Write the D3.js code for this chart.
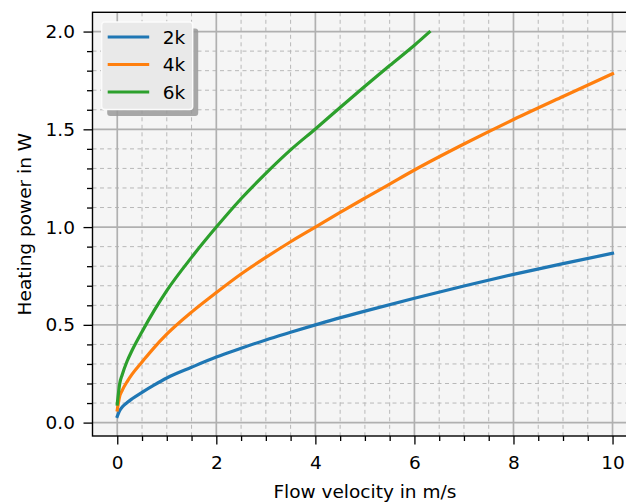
<!DOCTYPE html>
<html>
<head>
<meta charset="utf-8">
<script src="https://cdn.jsdelivr.net/npm/d3@7"></script>
<style>
  html, body { margin: 0; padding: 0; background: #ffffff; }
  svg { display: block; }
  text { font-family: "DejaVu Sans", sans-serif; fill: #000; }
</style>
</head>
<body>
<svg id="chart" width="626" height="503"></svg>
<script>
// ---- data ----
const seriesNames = ["2k", "4k", "6k"];
const seriesColors = ["#1f77b4", "#ff7f0e", "#2ca02c"];

const v2k = [0, 0.05, 0.1, 0.2, 0.3, 0.5, 0.75, 1, 1.5, 2, 2.5, 3, 3.5, 4, 5, 6, 7, 8, 9, 10];
const p2k = [0.032, 0.062, 0.08, 0.103, 0.122, 0.155, 0.193, 0.228, 0.283, 0.335, 0.38, 0.423, 0.462, 0.50, 0.57, 0.636, 0.699, 0.758, 0.813, 0.866];

const v4k = [0, 0.05, 0.1, 0.2, 0.3, 0.5, 0.75, 1, 1.5, 2, 2.5, 3, 3.5, 4, 4.5, 5, 5.5, 6, 7, 8, 9, 10];
const p4k = [0.065, 0.135, 0.165, 0.21, 0.248, 0.31, 0.385, 0.452, 0.565, 0.665, 0.76, 0.845, 0.925, 1.0, 1.075, 1.148, 1.22, 1.292, 1.425, 1.55, 1.668, 1.784];

const v6k = [0, 0.05, 0.1, 0.2, 0.3, 0.5, 0.75, 1, 1.5, 2, 2.5, 3, 3.5, 4, 4.5, 5, 5.5, 6, 6.3];
const p6k = [0.095, 0.2, 0.245, 0.315, 0.37, 0.465, 0.575, 0.675, 0.845, 1.0, 1.145, 1.275, 1.395, 1.502, 1.612, 1.72, 1.826, 1.93, 1.997];

const xMajorTicks = [0, 2, 4, 6, 8, 10];
const yMajorTicks = [0.0, 0.5, 1.0, 1.5, 2.0];
const xMinorTicks = [0.5, 1, 1.5, 2.5, 3, 3.5, 4.5, 5, 5.5, 6.5, 7, 7.5, 8.5, 9, 9.5];
const yMinorTicks = [0.1, 0.2, 0.3, 0.4, 0.6, 0.7, 0.8, 0.9, 1.1, 1.2, 1.3, 1.4, 1.6, 1.7, 1.8, 1.9];

const xLabel = "Flow velocity in m/s";
const yLabel = "Heating power in W";

// ---- layout ----
const svg = d3.select("#chart");
const pLeft = 92.5, pRight = 637.3, pTop = 12.3, pBottom = 436;
const x = d3.scaleLinear().domain([-0.5, 10.5]).range([pLeft, pRight]);
const y = d3.scaleLinear().domain([-0.0685, 2.0985]).range([pBottom, pTop]);
const fontSize = 18.5;

svg.append("defs").append("clipPath").attr("id", "plotclip")
  .append("rect").attr("x", pLeft).attr("y", pTop).attr("width", pRight - pLeft).attr("height", pBottom - pTop);

// background
svg.append("rect").attr("x", pLeft).attr("y", pTop).attr("width", pRight - pLeft).attr("height", pBottom - pTop)
  .attr("fill", "#f5f5f5");

const grid = svg.append("g").attr("clip-path", "url(#plotclip)");
// minor grid
grid.selectAll("line.xminor").data(xMinorTicks).enter().append("line")
  .attr("x1", d => x(d)).attr("x2", d => x(d)).attr("y1", pTop).attr("y2", pBottom)
  .attr("stroke", "#b8b8b8").attr("stroke-width", 1).attr("stroke-dasharray", "4,3.5");
grid.selectAll("line.yminor").data(yMinorTicks).enter().append("line")
  .attr("y1", d => y(d)).attr("y2", d => y(d)).attr("x1", pLeft).attr("x2", pRight)
  .attr("stroke", "#b8b8b8").attr("stroke-width", 1).attr("stroke-dasharray", "4,3.5");
// major grid
grid.selectAll("line.xmajor").data(xMajorTicks).enter().append("line")
  .attr("x1", d => x(d)).attr("x2", d => x(d)).attr("y1", pTop).attr("y2", pBottom)
  .attr("stroke", "#b0b0b0").attr("stroke-width", 1.7);
grid.selectAll("line.ymajor").data(yMajorTicks).enter().append("line")
  .attr("y1", d => y(d)).attr("y2", d => y(d)).attr("x1", pLeft).attr("x2", pRight)
  .attr("stroke", "#b0b0b0").attr("stroke-width", 1.7);

// lines
const seriesData = [
  v2k.map((v, i) => [v, p2k[i]]),
  v4k.map((v, i) => [v, p4k[i]]),
  v6k.map((v, i) => [v, p6k[i]])
];
const line = d3.line().x(d => x(d[0])).y(d => y(d[1])).curve(d3.curveMonotoneX);
const lines = svg.append("g").attr("clip-path", "url(#plotclip)");
seriesData.forEach((s, i) => {
  lines.append("path").attr("d", line(s)).attr("fill", "none")
    .attr("stroke", seriesColors[i]).attr("stroke-width", 3.2).attr("stroke-linecap", "square")
    .attr("stroke-linejoin", "round");
});

// axes
const xAxis = d3.axisBottom(x).tickValues(xMajorTicks).tickFormat(d3.format("d")).tickSize(8.5).tickPadding(11.5);
const xAxisMinor = d3.axisBottom(x).tickValues(xMinorTicks).tickFormat("").tickSize(5);
const yAxis = d3.axisLeft(y).tickValues(yMajorTicks).tickFormat(d3.format(".1f")).tickSize(9).tickPadding(8.5);
const yAxisMinor = d3.axisLeft(y).tickValues(yMinorTicks).tickFormat("").tickSize(5.5);

function styleAxis(g) {
  g.select(".domain").remove();
  g.selectAll(".tick line").attr("stroke", "#000").attr("stroke-width", 1.3);
  g.selectAll(".tick text").attr("font-size", fontSize).attr("font-family", "DejaVu Sans").attr("fill", "#000");
}
svg.append("g").attr("transform", `translate(0,${pBottom})`).call(xAxisMinor).call(styleAxis);
svg.append("g").attr("transform", `translate(0,${pBottom})`).call(xAxis).call(styleAxis);
svg.append("g").attr("transform", `translate(${pLeft},0)`).call(yAxisMinor).call(styleAxis);
svg.append("g").attr("transform", `translate(${pLeft},0)`).call(yAxis).call(styleAxis);

// spines
svg.append("rect").attr("x", pLeft).attr("y", pTop).attr("width", pRight - pLeft).attr("height", pBottom - pTop)
  .attr("fill", "none").attr("stroke", "#000").attr("stroke-width", 1.4);

// axis labels
svg.append("text").attr("x", (pLeft + pRight) / 2).attr("y", 497.5)
  .attr("text-anchor", "middle").attr("font-size", fontSize).text(xLabel);
svg.append("text").attr("transform", `translate(31,${(pTop + pBottom) / 2}) rotate(-90)`)
  .attr("text-anchor", "middle").attr("font-size", fontSize).text(yLabel);

// legend
const lg = svg.append("g");
const lx = 101.7, ly = 22, lw = 91, lh = 87.5;
lg.append("rect").attr("x", lx + 5.5).attr("y", ly + 6.5).attr("width", lw).attr("height", lh)
  .attr("rx", 3).attr("fill", "#999999").attr("opacity", 0.85);
lg.append("rect").attr("x", lx).attr("y", ly).attr("width", lw).attr("height", lh)
  .attr("rx", 3).attr("fill", "#e9e9e9").attr("stroke", "#fbfbfb").attr("stroke-width", 1.4);
seriesNames.forEach((name, i) => {
  const yy = ly + 15 + i * 27.5;
  lg.append("line").attr("x1", lx + 6).attr("x2", lx + 47.5).attr("y1", yy).attr("y2", yy)
    .attr("stroke", seriesColors[i]).attr("stroke-width", 3.2);
  lg.append("text").attr("x", lx + 61).attr("y", yy).attr("dy", "0.36em")
    .attr("font-size", fontSize).text(name);
});
</script>
</body>
</html>
